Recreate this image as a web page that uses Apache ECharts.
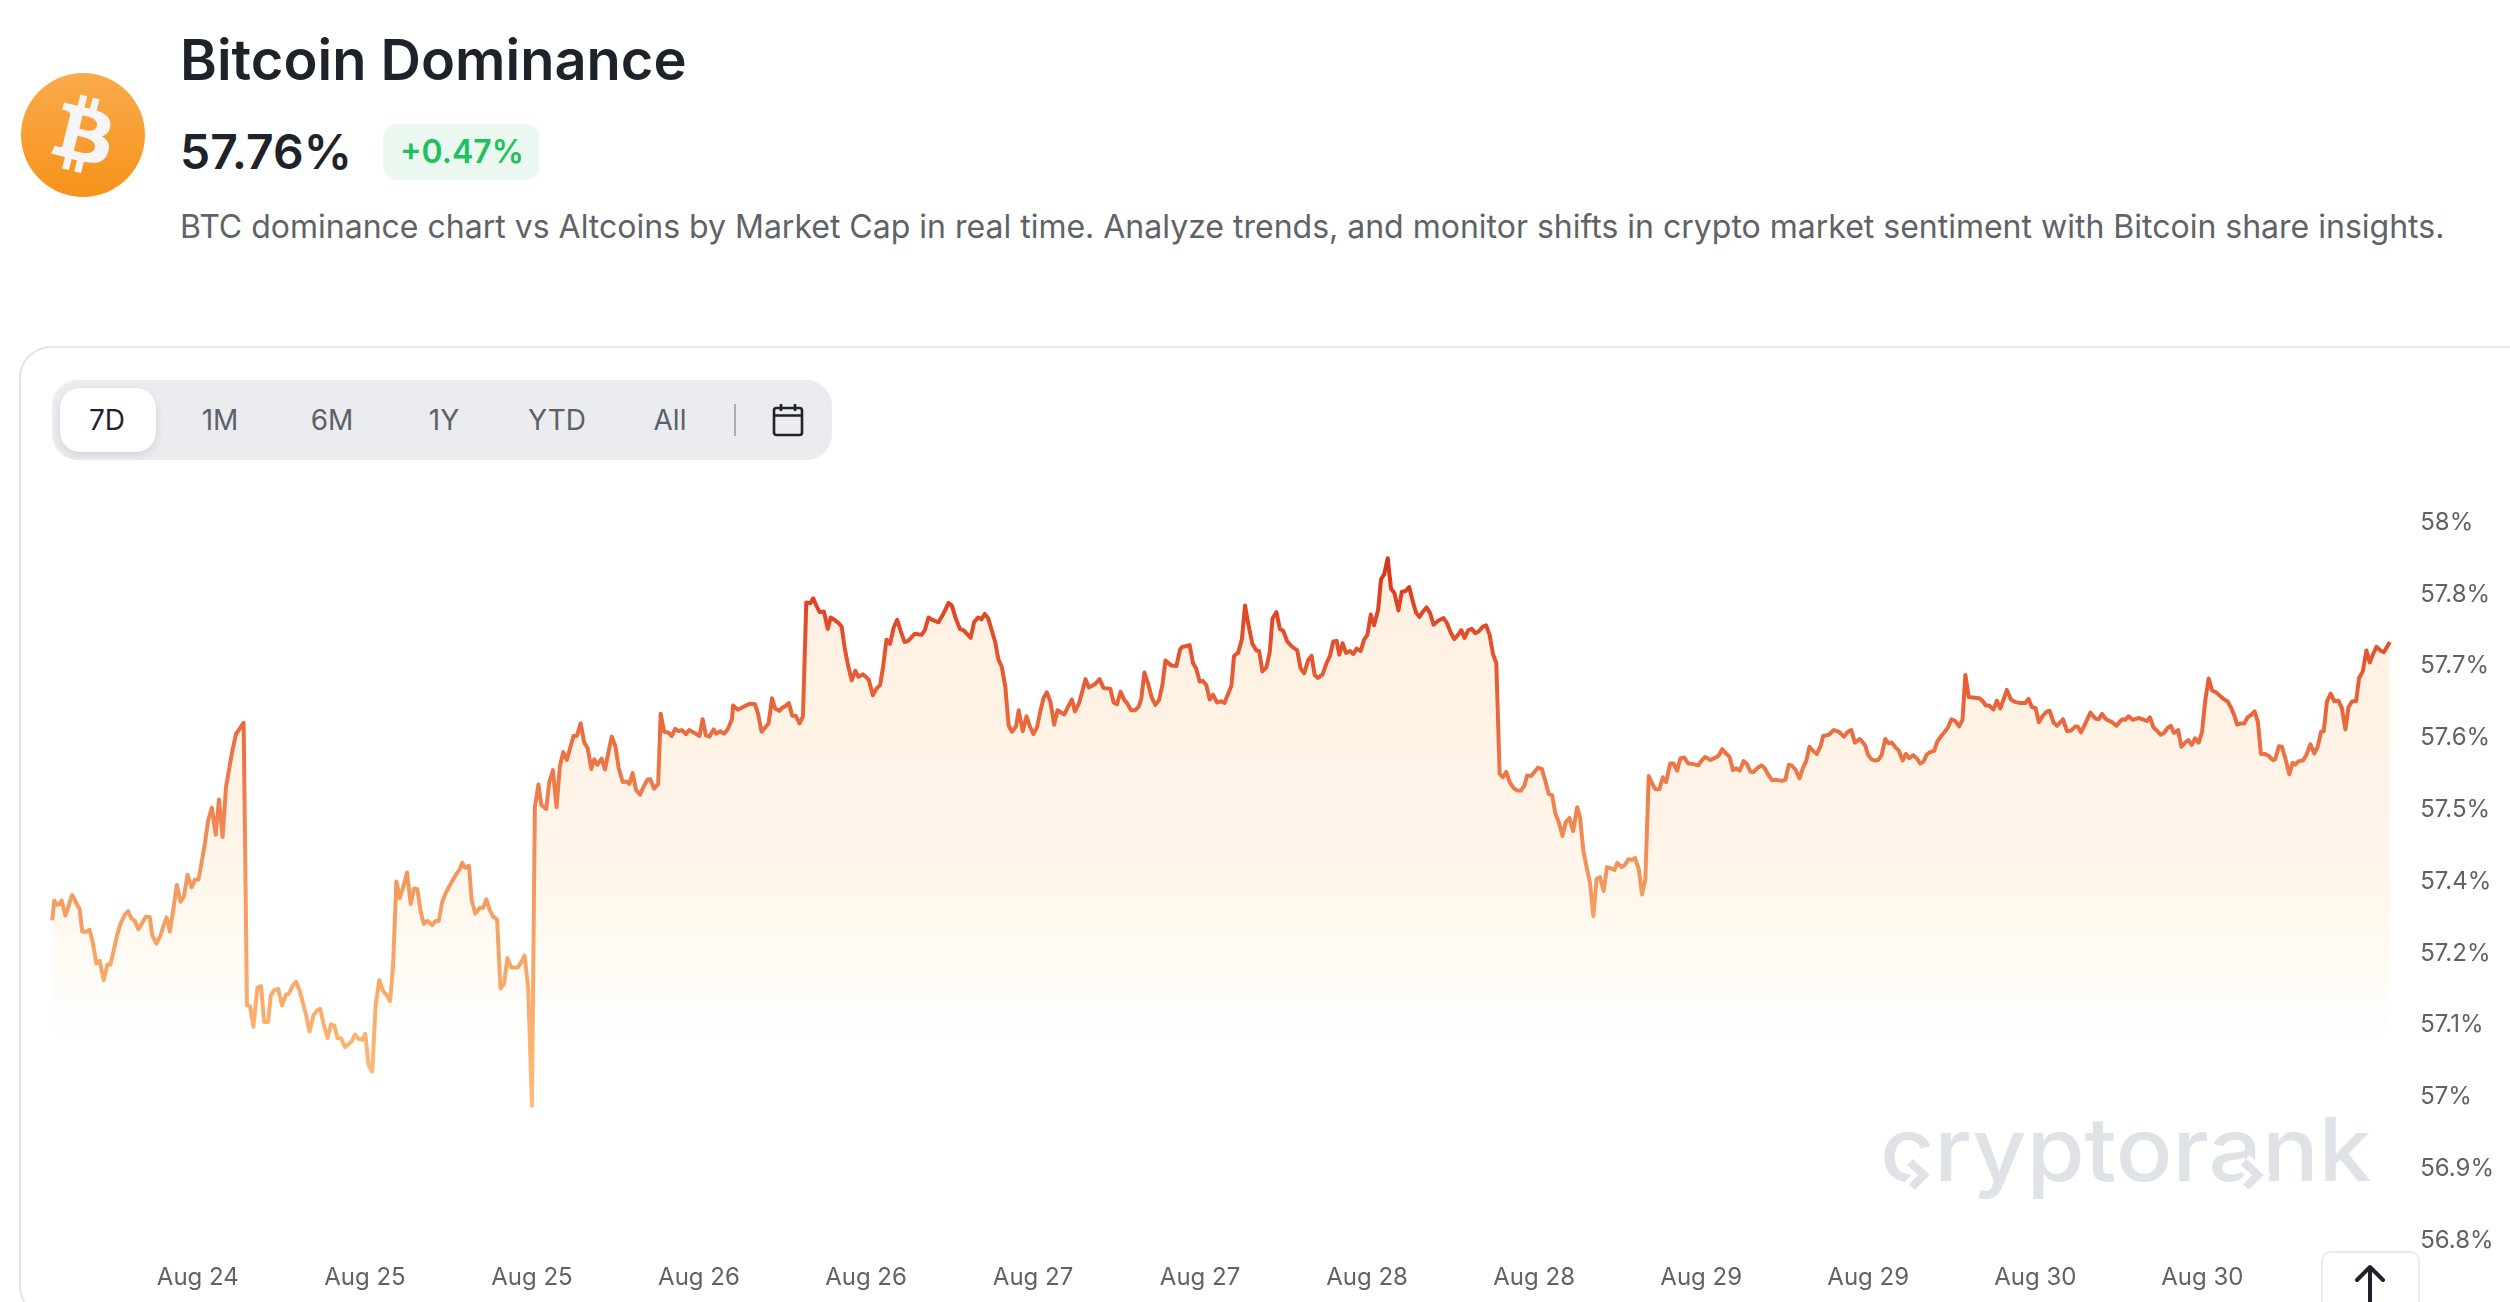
<!DOCTYPE html>
<html><head><meta charset="utf-8"><title>Bitcoin Dominance</title>
<script src="https://cdn.jsdelivr.net/npm/echarts@6/dist/echarts.min.js"></script>
<style>
html,body{margin:0;padding:0;width:2510px;height:1302px;overflow:hidden;background:#fff;font-family:Inter,"Noto Sans",sans-serif;color:#1e2329}
.abs{position:absolute;white-space:nowrap}
#chart{position:absolute;left:0;top:0;width:2510px;height:1302px}
.tab{position:absolute;top:420px;transform:translate(-50%,-50%);font-size:28px;color:#5c6068;line-height:1}
</style></head><body>
<svg class="abs" style="left:21px;top:73px" width="124" height="124" viewBox="0 0 64 64">
<defs><linearGradient id="g" x1="0" y1="0" x2="0" y2="1"><stop offset="0" stop-color="#f9aa4b"/><stop offset="1" stop-color="#f7931a"/></linearGradient></defs>
<circle cx="32" cy="32" r="32" fill="url(#g)"/>
<path fill="#f5f5f5" d="M46.103 27.444c.637-4.258-2.605-6.547-7.038-8.074l1.438-5.768-3.511-.875-1.4 5.616c-.923-.23-1.871-.447-2.813-.662l1.41-5.653-3.509-.875-1.439 5.766c-.764-.174-1.514-.346-2.242-.527l.004-.018-4.842-1.209-.934 3.75s2.605.597 2.55.634c1.422.355 1.679 1.296 1.636 2.042l-1.638 6.571c.098.025.225.061.365.117l-.371-.092-2.296 9.205c-.174.432-.615 1.08-1.609.834.035.051-2.552-.637-2.552-.637l-1.743 4.019 4.569 1.139c.85.213 1.683.436 2.503.646l-1.453 5.834 3.507.875 1.439-5.772c.958.26 1.888.5 2.798.726l-1.434 5.745 3.511.875 1.453-5.823c5.987 1.133 10.489.676 12.384-4.739 1.527-4.36-.076-6.875-3.226-8.515 2.294-.529 4.022-2.038 4.483-5.155zM38.08 38.693c-1.085 4.36-8.426 2.003-10.806 1.412l1.928-7.729c2.38.594 10.012 1.77 8.878 6.317zm1.086-11.312c-.99 3.966-7.1 1.951-9.082 1.457l1.748-7.01c1.982.494 8.365 1.416 7.334 5.553z"/>
</svg>
<div class="abs" style="left:180px;top:60px;transform:translateY(-50%);font-size:56px;font-weight:600;line-height:1">Bitcoin Dominance</div>
<div class="abs" style="left:180px;top:152px;transform:translateY(-50%);font-size:48px;font-weight:600;line-height:1">57.76%</div>
<div class="abs" style="left:383px;top:124px;width:156px;height:56px;background:#ebf8f0;border-radius:14px"></div>
<div class="abs" style="left:400px;top:152px;transform:translateY(-50%);font-size:32px;font-weight:600;color:#1fc05f;line-height:1">+0.47%</div>
<div class="abs" style="left:180px;top:227px;transform:translateY(-50%);font-size:32px;color:#5f6368;line-height:1.2">BTC dominance chart vs Altcoins by Market Cap in real time. Analyze trends, and monitor shifts in crypto market sentiment with Bitcoin share insights.</div>
<div class="abs" style="left:19px;top:346px;width:2530px;height:972px;border:2px solid #e3e5ea;border-radius:32px;box-sizing:border-box"></div>
<div class="abs" style="left:52px;top:380px;width:780px;height:80px;background:#ebecf0;border-radius:26px"></div>
<div class="abs" style="left:60px;top:388px;width:96px;height:64px;background:#fff;border-radius:20px;box-shadow:0 3px 8px rgba(30,35,41,.12)"></div>
<div class="tab" style="left:107px;color:#1e2329">7D</div>
<div class="tab" style="left:220px">1M</div>
<div class="tab" style="left:332px">6M</div>
<div class="tab" style="left:444px">1Y</div>
<div class="tab" style="left:557px">YTD</div>
<div class="tab" style="left:670px">All</div>
<div class="abs" style="left:734px;top:404px;width:2px;height:32px;background:#a9adb5"></div>
<svg class="abs" style="left:771px;top:402px" width="34" height="36" viewBox="0 0 34 36" fill="none" stroke="#1e2329" stroke-width="2.6">
<rect x="3" y="6" width="28" height="27" rx="2.5"/><path d="M3 13.5H31M10 2V9M24 2V9"/></svg>
<div class="abs" style="left:1880px;top:1105px;font-family:Inter,sans-serif;font-weight:500;font-size:88px;line-height:1;color:#dfe2e6;transform-origin:0 0;transform:scaleX(1.07)">cryptorank</div>
<svg class="abs" style="left:1880px;top:1140px" width="400" height="60" viewBox="1880 1140 400 60" fill="none" stroke-linecap="butt" stroke-linejoin="miter">
<path d="M1910 1162L1924 1175L1912 1187M2243.5 1162L2258 1175L2245.6 1187" stroke="#fff" stroke-width="18"/>
<path d="M1910 1162L1924 1175L1912 1187M2243.5 1162L2258 1175L2245.6 1187" stroke="#dfe2e6" stroke-width="8"/></svg>
<div id="chart"></div>
<div class="abs" style="left:2321px;top:1251px;width:99px;height:70px;background:#fff;border:2px solid #e8eaee;border-radius:10px;box-sizing:border-box"></div>
<svg class="abs" style="left:2350px;top:1262px" width="40" height="40" viewBox="0 0 40 40" fill="none" stroke="#1e2329" stroke-width="4" stroke-linecap="round" stroke-linejoin="round"><path d="M20 5V40M7 18L20 5L33 18"/></svg>
<script>
const xTickLabels=['','Aug 24','Aug 25','Aug 25','Aug 26','Aug 26','Aug 27','Aug 27','Aug 28','Aug 28','Aug 29','Aug 29','Aug 30','Aug 30',''];
const yTickLabels=['56.8%','56.9%','57%','57.1%','57.2%','57.4%','57.5%','57.6%','57.7%','57.8%','58%'];
// [hours after the "Aug 24" tick, BTC dominance %]
const aug23Evening=[[-10.46,57.331],[-10.31,57.364],[-10.12,57.357],[-9.93,57.358],[-9.79,57.364],[-9.64,57.351],[-9.52,57.339],[-9.33,57.351],[-9.16,57.365],[-9.02,57.373],[-8.78,57.362],[-8.49,57.349],[-8.30,57.312],[-8.01,57.312],[-7.77,57.315],[-7.53,57.292],[-7.29,57.259],[-7.05,57.263],[-6.76,57.231],[-6.50,57.257],[-6.28,57.257],[-6.04,57.281],[-5.80,57.306],[-5.56,57.325],[-5.25,57.340],[-5.01,57.346],[-4.77,57.334],[-4.53,57.330],[-4.27,57.316],[-4.03,57.325],[-3.74,57.337],[-3.45,57.336],[-3.28,57.306],[-2.97,57.292],[-2.68,57.306],[-2.49,57.320],[-2.25,57.336],[-2.01,57.312],[-1.77,57.348],[-1.51,57.390],[-1.24,57.362],[-1.00,57.371],[-0.74,57.407],[-0.45,57.386],[-0.21,57.399]];
const firstDay=[[0.05,57.399],[0.27,57.427],[0.51,57.460],[0.75,57.499],[1.01,57.519],[1.28,57.474],[1.52,57.533],[1.78,57.470],[2.02,57.553],[2.31,57.592],[2.50,57.617],[2.74,57.642],[3.03,57.652],[3.29,57.661],[3.53,57.189],[3.75,57.187],[3.99,57.153],[4.28,57.218],[4.54,57.221],[4.76,57.161],[5.05,57.161],[5.24,57.205],[5.48,57.214],[5.77,57.216],[6.05,57.189],[6.34,57.207],[6.53,57.208],[6.82,57.222],[7.06,57.228],[7.30,57.214],[7.54,57.194],[7.78,57.172],[8.02,57.145],[8.31,57.172],[8.55,57.180],[8.79,57.183],[9.03,57.158],[9.32,57.134],[9.56,57.157],[9.80,57.155],[10.04,57.134],[10.28,57.134],[10.57,57.119],[10.83,57.124],[11.07,57.129],[11.29,57.140],[11.55,57.133],[11.79,57.131],[12.03,57.141],[12.27,57.088],[12.53,57.078],[12.77,57.189],[13.04,57.231],[13.30,57.213],[13.59,57.205],[13.81,57.196],[14.02,57.253],[14.26,57.396],[14.50,57.368],[14.74,57.385],[15.03,57.411],[15.29,57.358],[15.53,57.384],[15.77,57.383],[15.99,57.348],[16.23,57.325],[16.49,57.330],[16.83,57.323],[17.07,57.330],[17.31,57.330],[17.56,57.362],[17.80,57.376],[18.04,57.387],[18.33,57.399],[18.57,57.408],[18.81,57.416],[19.00,57.427],[19.19,57.419],[19.48,57.422],[19.67,57.365],[19.94,57.342],[20.25,57.352],[20.49,57.352],[20.73,57.366],[20.97,57.348],[21.21,57.337],[21.50,57.332],[21.74,57.217],[22.00,57.225],[22.24,57.268],[22.51,57.252],[22.99,57.252],[23.23,57.261],[23.47,57.272],[23.73,57.219]];
const secondDay=[[24.00,57.021],[24.21,57.520],[24.47,57.558],[24.67,57.524],[25.03,57.517],[25.24,57.561],[25.51,57.582],[25.77,57.520],[26.01,57.589],[26.25,57.612],[26.51,57.599],[26.78,57.622],[26.99,57.639],[27.23,57.639],[27.50,57.660],[27.76,57.628],[28.00,57.619],[28.27,57.584],[28.48,57.600],[28.70,57.591],[29.01,57.601],[29.25,57.583],[29.49,57.611],[29.73,57.638],[30.00,57.622],[30.23,57.586],[30.52,57.562],[30.76,57.563],[31.00,57.559],[31.24,57.577],[31.48,57.549],[31.77,57.541],[32.06,57.556],[32.30,57.566],[32.49,57.567],[32.78,57.551],[33.07,57.559],[33.25,57.676],[33.50,57.646],[33.79,57.645],[34.05,57.639],[34.29,57.651],[34.53,57.647],[34.77,57.649],[35.06,57.642],[35.30,57.649],[35.61,57.645],[36.04,57.639],[36.26,57.667],[36.50,57.640],[36.76,57.638],[37.05,57.650],[37.24,57.643],[37.53,57.647],[37.82,57.643],[38.06,57.650],[38.37,57.667],[38.45,57.690],[38.80,57.683],[39.30,57.689],[39.67,57.693],[40.03,57.692],[40.24,57.677],[40.50,57.646],[41.00,57.660],[41.25,57.702],[41.47,57.685],[41.78,57.681],[41.98,57.686],[42.22,57.689],[42.46,57.694],[42.70,57.673],[42.94,57.673],[43.23,57.660],[43.47,57.672],[43.71,57.862],[44.00,57.861],[44.21,57.869],[44.43,57.857],[44.67,57.846],[44.98,57.847],[45.25,57.818],[45.46,57.837],[45.75,57.833],[46.01,57.828],[46.25,57.822],[46.47,57.786],[46.73,57.755],[46.97,57.732],[47.24,57.748],[47.45,57.738],[47.79,57.742]];
const thirdDay=[[48.20,57.733],[48.49,57.707],[48.75,57.718],[49.01,57.724],[49.23,57.755],[49.47,57.800],[49.73,57.793],[49.97,57.819],[50.24,57.833],[50.50,57.814],[50.77,57.796],[51.03,57.798],[51.51,57.810],[51.99,57.808],[52.23,57.816],[52.49,57.837],[52.78,57.833],[53.21,57.829],[53.55,57.843],[53.93,57.861],[54.17,57.857],[54.44,57.836],[54.75,57.818],[55.04,57.815],[55.52,57.803],[55.76,57.829],[56.05,57.837],[56.29,57.834],[56.53,57.843],[56.77,57.836],[57.03,57.816],[57.27,57.797],[57.51,57.767],[57.75,57.755],[58.01,57.721],[58.25,57.656],[58.49,57.646],[58.78,57.655],[58.97,57.682],[59.26,57.647],[59.53,57.672],[59.79,57.654],[60.03,57.642],[60.29,57.654],[60.51,57.679],[60.75,57.702],[60.99,57.712],[61.25,57.696],[61.52,57.658],[61.76,57.682],[62.24,57.675],[62.79,57.700],[63.01,57.680],[63.29,57.693],[63.53,57.713],[63.77,57.734],[64.01,57.720],[64.47,57.726],[64.78,57.734],[65.07,57.719],[65.55,57.718],[65.79,57.695],[66.03,57.692],[66.29,57.713],[66.56,57.699],[66.75,57.694],[67.04,57.682],[67.33,57.682],[67.59,57.688],[67.78,57.702],[68.00,57.745],[68.26,57.727],[68.53,57.703],[68.79,57.691],[69.05,57.699],[69.29,57.724],[69.51,57.765],[69.92,57.757],[70.30,57.756],[70.57,57.784],[70.72,57.788],[70.96,57.789],[71.25,57.791],[71.49,57.761],[71.73,57.751],[71.97,57.730]];
const fourthDay=[[72.21,57.731],[72.45,57.724],[72.69,57.700],[72.93,57.708],[73.22,57.695],[73.51,57.697],[73.75,57.694],[73.99,57.708],[74.25,57.723],[74.44,57.773],[74.73,57.778],[75.00,57.800],[75.23,57.857],[75.50,57.822],[75.76,57.793],[76.05,57.782],[76.24,57.781],[76.48,57.747],[76.77,57.754],[77.01,57.780],[77.20,57.835],[77.49,57.846],[77.73,57.818],[77.97,57.815],[78.26,57.797],[78.57,57.789],[78.98,57.782],[79.22,57.752],[79.48,57.744],[79.77,57.766],[80.01,57.773],[80.23,57.741],[80.47,57.736],[80.80,57.742],[81.09,57.761],[81.33,57.773],[81.57,57.797],[81.81,57.798],[82.00,57.775],[82.24,57.794],[82.48,57.778],[82.77,57.781],[83.01,57.776],[83.25,57.785],[83.54,57.781],[83.78,57.800],[84.02,57.808],[84.26,57.842],[84.50,57.824],[84.79,57.850],[85.00,57.901],[85.22,57.909],[85.48,57.936],[85.72,57.885],[85.96,57.878],[86.25,57.849],[86.49,57.880],[86.75,57.881],[87.02,57.888],[87.28,57.864],[87.52,57.845],[87.76,57.838],[88.05,57.848],[88.27,57.854],[88.53,57.844],[88.77,57.825],[89.13,57.832],[89.49,57.836],[89.73,57.828],[90.02,57.811],[90.26,57.801],[90.50,57.807],[90.76,57.816],[91.00,57.803],[91.27,57.816],[91.51,57.818],[91.77,57.811],[92.03,57.814],[92.32,57.822],[92.54,57.824],[92.80,57.808],[93.04,57.776],[93.28,57.761],[93.52,57.576],[93.76,57.570],[94.00,57.579],[94.24,57.562],[94.53,57.552],[94.77,57.548],[95.06,57.548],[95.30,57.556],[95.49,57.573],[95.78,57.572]];
const fifthDay=[[96.02,57.579],[96.26,57.586],[96.55,57.584],[96.79,57.565],[97.05,57.542],[97.29,57.540],[97.53,57.509],[97.77,57.495],[98.03,57.472],[98.27,57.495],[98.54,57.502],[98.80,57.480],[99.09,57.520],[99.29,57.504],[99.53,57.448],[99.77,57.420],[100.01,57.394],[100.25,57.338],[100.49,57.400],[100.73,57.403],[100.99,57.380],[101.23,57.420],[101.50,57.418],[101.76,57.415],[101.98,57.427],[102.29,57.420],[102.53,57.424],[102.77,57.433],[103.03,57.432],[103.25,57.435],[103.51,57.417],[103.75,57.374],[103.99,57.400],[104.23,57.572],[104.47,57.560],[104.71,57.550],[105.00,57.550],[105.24,57.570],[105.48,57.562],[105.77,57.593],[106.01,57.593],[106.27,57.581],[106.51,57.602],[106.78,57.603],[107.07,57.593],[107.45,57.592],[107.79,57.590],[108.07,57.599],[108.29,57.604],[108.65,57.599],[108.96,57.602],[109.25,57.606],[109.51,57.617],[109.78,57.610],[110.04,57.604],[110.28,57.582],[110.52,57.585],[110.76,57.581],[111.05,57.597],[111.29,57.592],[111.55,57.579],[111.77,57.579],[112.06,57.586],[112.32,57.590],[112.56,57.585],[112.83,57.574],[113.09,57.565],[113.33,57.566],[113.81,57.564],[114.05,57.566],[114.29,57.591],[114.53,57.589],[114.77,57.583],[115.06,57.568],[115.32,57.586],[115.54,57.597],[115.78,57.621],[116.04,57.614],[116.31,57.609],[116.57,57.622],[116.76,57.639],[117.17,57.641],[117.53,57.649],[117.89,57.646],[118.25,57.638],[118.54,57.646],[118.78,57.649],[119.04,57.628],[119.40,57.634],[119.54,57.632],[119.76,57.624]];
const sixthDay=[[120.00,57.607],[120.24,57.600],[120.48,57.598],[120.72,57.599],[120.96,57.607],[121.22,57.634],[121.46,57.627],[121.68,57.628],[121.92,57.621],[122.21,57.614],[122.47,57.598],[122.71,57.609],[122.95,57.602],[123.24,57.607],[123.48,57.602],[123.72,57.593],[123.96,57.596],[124.20,57.608],[124.44,57.612],[124.73,57.614],[124.97,57.630],[125.21,57.638],[125.50,57.646],[125.74,57.654],[125.98,57.667],[126.24,57.664],[126.53,57.655],[126.77,57.666],[126.98,57.741],[127.22,57.704],[127.68,57.703],[127.99,57.702],[128.23,57.697],[128.45,57.690],[128.69,57.690],[129.00,57.683],[129.24,57.698],[129.48,57.685],[129.72,57.700],[129.96,57.716],[130.25,57.700],[130.56,57.696],[130.92,57.694],[131.28,57.694],[131.52,57.701],[131.76,57.687],[132.02,57.686],[132.26,57.662],[132.55,57.673],[132.84,57.680],[133.03,57.681],[133.32,57.661],[133.56,57.656],[133.99,57.667],[134.28,57.647],[134.57,57.648],[134.88,57.655],[135.05,57.655],[135.29,57.645],[135.60,57.660],[135.96,57.678],[136.32,57.668],[136.56,57.667],[136.80,57.676],[137.04,57.668],[137.28,57.665],[137.52,57.662],[137.83,57.656],[138.07,57.663],[138.27,57.667],[138.46,57.666],[138.70,57.672],[138.99,57.666],[139.40,57.669],[139.71,57.667],[140.00,57.664],[140.24,57.670],[140.48,57.654],[140.77,57.647],[141.01,57.641],[141.25,57.644],[141.49,57.652],[141.73,57.656],[141.97,57.644],[142.26,57.649],[142.50,57.621],[142.76,57.628],[143.00,57.632],[143.24,57.624],[143.48,57.635],[143.74,57.628]];
const lastHours=[[143.98,57.646],[144.22,57.700],[144.46,57.735],[144.70,57.715],[144.99,57.712],[145.28,57.706],[145.57,57.700],[145.81,57.697],[146.05,57.687],[146.29,57.674],[146.50,57.658],[146.77,57.660],[147.01,57.660],[147.25,57.670],[147.49,57.674],[147.75,57.680],[147.99,57.663],[148.21,57.609],[148.47,57.609],[148.76,57.606],[149.05,57.599],[149.24,57.600],[149.50,57.622],[149.72,57.621],[149.96,57.602],[150.25,57.575],[150.49,57.594],[150.68,57.591],[150.92,57.597],[151.23,57.598],[151.47,57.607],[151.76,57.625],[152.05,57.610],[152.29,57.621],[152.53,57.646],[152.72,57.647],[152.96,57.697],[153.22,57.710],[153.49,57.697],[153.78,57.698],[154.02,57.686],[154.28,57.650],[154.50,57.687],[154.76,57.697],[155.05,57.697],[155.26,57.736],[155.53,57.747],[155.79,57.782],[156.03,57.762],[156.27,57.776],[156.51,57.788],[156.80,57.782],[157.04,57.779],[157.47,57.796]];
const dominance=[...aug23Evening,...firstDay,...secondDay,...thirdDay,...fourthDay,...fifthDay,...sixthDay,...lastHours];
const yMin=56.8,yMax=58,yStep=0.12,xStep=12;
const chart=echarts.init(document.getElementById('chart'),null,{renderer:'canvas'});
const axisText={fontFamily:'Inter',fontSize:24,color:'#5f6368'};
chart.setOption({
  animation:false,backgroundColor:'transparent',
  grid:{left:30.8,top:520,width:2366.4,height:718,containLabel:false},
  tooltip:{show:false},
  xAxis:{type:'value',min:-12,max:158,interval:xStep,splitLine:{show:false},axisLine:{show:false},axisTick:{show:false},
    axisLabel:{...axisText,margin:28,hideOverlap:false,showMinLabel:true,showMaxLabel:true,
      formatter:v=>xTickLabels[Math.round((v+12)/xStep)]||''}},
  yAxis:{type:'value',position:'right',min:yMin,max:yMax,interval:yStep,splitLine:{show:false},axisLine:{show:false},axisTick:{show:false},
    axisLabel:{...axisText,margin:23,verticalAlign:'top',lineHeight:5,hideOverlap:false,showMinLabel:true,showMaxLabel:true,
      formatter:v=>yTickLabels[Math.round((v-yMin)/yStep)]||''}},
  series:[{type:'line',name:'BTC dominance',data:dominance,showSymbol:false,symbol:'none',smooth:false,sampling:'none',clip:false,
    lineStyle:{width:4,join:'round',color:new echarts.graphic.LinearGradient(0,0,0,1,[
      {offset:0,color:'#d9321a'},{offset:.15,color:'#e2502c'},{offset:.35,color:'#ec7142'},{offset:.6,color:'#f39a5f'},{offset:1,color:'#ffbd78'}])},
    areaStyle:{origin:'start',color:new echarts.graphic.LinearGradient(0,0,0,1,[
      {offset:0,color:'#fde9d5'},{offset:.4,color:'#feefdd'},{offset:.62,color:'#fff9f1'},{offset:.74,color:'rgba(255,255,255,0)'},{offset:1,color:'rgba(255,255,255,0)'}])}
  }]
});
</script>
</body></html>
